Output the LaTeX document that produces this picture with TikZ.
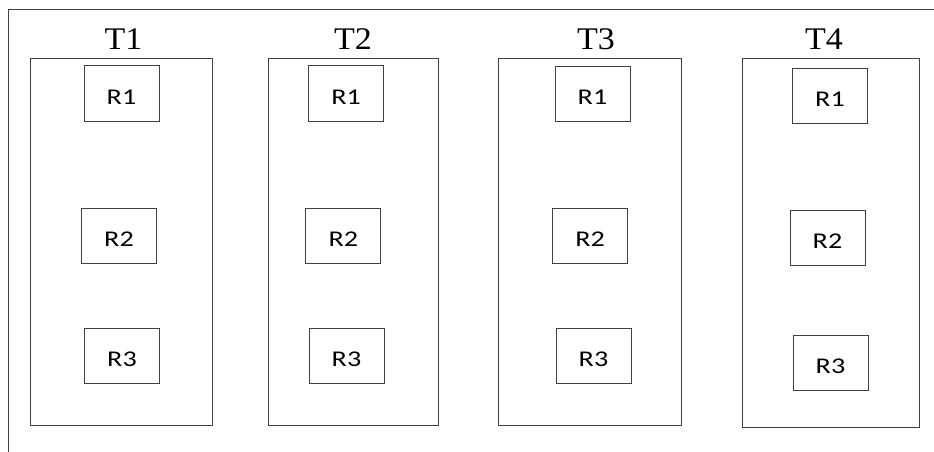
\documentclass[tikz,border=0pt]{standalone}
\usepackage{fontspec}
\setmainfont[FakeStretch=1.08]{Liberation Serif}
\newfontfamily\rfont[FakeStretch=1.25]{Carlito}
\tikzset{
  frame/.style={draw=black!75, line width=1pt},
  tbox/.style={frame, rectangle, inner sep=0pt},
  rbox/.style={frame, rectangle, inner sep=0pt, minimum width=75pt, minimum height=55pt,
    font=\rfont\fontsize{22.5}{22.5}\selectfont, text height=21pt, text depth=0pt},
  ttitle/.style={anchor=base, inner sep=0pt, font=\fontsize{31.5}{31.5}\selectfont}
}
\begin{document}
\begin{tikzpicture}[x=1pt,y=-1pt]
\useasboundingbox (0,0) rectangle (934,452);
\coordinate (fb) at (8.3,452);
\coordinate (fc) at (8.3,9.3);
\coordinate (fr) at (934,9.3);
\draw[frame] (fb) -- (fc) -- (fr);
% tables
\node[tbox, minimum width=182pt, minimum height=366pt] (t1) at (121,242) {};
\node[tbox, minimum width=170pt, minimum height=366pt] (t2) at (353.7,242) {};
\node[tbox, minimum width=183pt, minimum height=366pt] (t3) at (589.5,242) {};
\node[tbox, minimum width=177pt, minimum height=368pt] (t4) at (830.5,243) {};
% titles
\node[ttitle] (l1) at (123.5,50) {T1};
\node[ttitle] (l2) at (353,50) {T2};
\node[ttitle] (l3) at (596,50) {T3};
\node[ttitle] (l4) at (824,49) {T4};
% rows
\node[rbox] (r11) at (121.5,93.5) {R1};
\node[rbox] (r12) at (119,235.5) {R2};
\node[rbox] (r13) at (122,355.5) {R3};
\node[rbox] (r21) at (346.2,93.5) {R1};
\node[rbox] (r22) at (343.3,235.5) {R2};
\node[rbox] (r23) at (346.5,355.5) {R3};
\node[rbox] (r31) at (592.5,94) {R1};
\node[rbox] (r32) at (590.2,235.5) {R2};
\node[rbox] (r33) at (593.5,355.5) {R3};
\node[rbox] (r41) at (830,96) {R1};
\node[rbox] (r42) at (827.5,238) {R2};
\node[rbox] (r43) at (830.5,362.5) {R3};
\end{tikzpicture}
\end{document}
